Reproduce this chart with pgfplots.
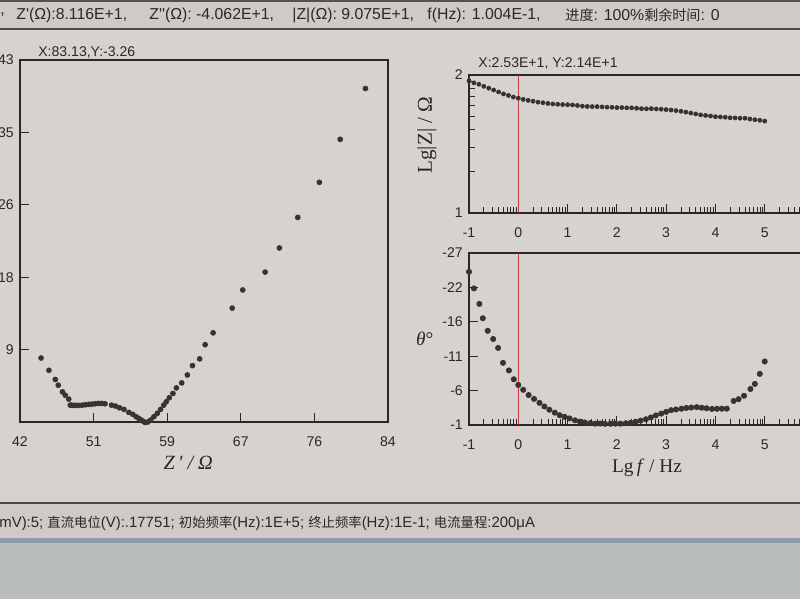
\documentclass[border=0pt]{standalone}
\usepackage{fontspec}
\setmainfont{Liberation Sans}
\newfontfamily\serif{Liberation Serif}
\newfontfamily\cjk{Noto Sans CJK SC}
\usepackage{pgfplots}
\pgfplotsset{compat=1.18}

\definecolor{bg}{HTML}{D6D2CF}
\definecolor{barbg}{HTML}{CFCAC7}
\definecolor{lowbg}{HTML}{B9BDBE}
\definecolor{edge}{HTML}{8E9CA8}
\definecolor{ink}{HTML}{2A2727}
\definecolor{dot}{HTML}{3A3232}
\definecolor{cursor}{HTML}{C8383C}

\newcommand\q{\textquotesingle}

\pgfplotsset{
  screen/.style={
    scale only axis, clip=false,
    axis line style={line width=0.6pt, ink},
    tick style={line width=0.5pt, ink},
    tick align=inside, xtick pos=left, ytick pos=left,
    major tick length=0.18cm, minor tick length=0.12cm,
    ticklabel style={font=\fontsize{8}{9.6}\selectfont, text=ink},
    xticklabel style={yshift=-0.17cm},
    label style={text=ink},
  },
  dots/.style={only marks, mark=*, mark size=#1,
    mark options={fill=dot, draw=dot}},
  bodex/.style={
    xmin=-1, xmax=6,
    xtick={-1,0,1,2,3,4,5,6}, xticklabels={-1,0,1,2,3,4,5,{}},
    minor xtick={-0.699,-0.523,-0.398,-0.301,-0.222,-0.155,-0.097,-0.046,
      0.301,0.477,0.602,0.699,0.778,0.845,0.903,0.954,
      1.301,1.477,1.602,1.699,1.778,1.845,1.903,1.954,
      2.301,2.477,2.602,2.699,2.778,2.845,2.903,2.954,
      3.301,3.477,3.602,3.699,3.778,3.845,3.903,3.954,
      4.301,4.477,4.602,4.699,4.778,4.845,4.903,4.954,
      5.301,5.477,5.602,5.699,5.778,5.845,5.903,5.954},
  },
}

% Nyquist: Z' and -Z'' (ohm)
\pgfplotstableread{
zre zim
44.78 8.41
45.67 6.97
46.39 5.89
46.72 5.22
47.20 4.44
47.51 4.05
47.91 3.59
48.08 2.88
48.19 2.88
48.38 2.85
48.56 2.85
48.75 2.85
49.05 2.85
49.42 2.88
49.78 2.92
50.16 2.97
50.53 3.00
50.90 3.04
51.27 3.08
51.64 3.08
52.01 3.04
52.75 2.88
53.19 2.77
53.64 2.57
54.15 2.38
54.70 2.03
55.15 1.80
55.53 1.52
55.82 1.33
56.12 1.13
56.38 0.94
56.56 0.85
56.86 0.90
57.17 1.13
57.54 1.52
57.92 1.92
58.29 2.38
58.65 2.88
58.93 3.27
59.27 3.74
59.69 4.25
60.08 4.90
60.68 5.49
61.32 6.42
61.90 7.52
62.71 8.31
63.33 9.98
64.23 11.37
66.39 14.27
67.58 16.40
70.11 18.50
71.72 21.33
73.80 24.92
76.24 29.04
78.60 34.09
81.45 40.05
}\nyq

% Bode modulus: lg f, lg|Z|
\pgfplotstableread{
lgf lgz
-1.0 1.957
-0.9 1.943
-0.8 1.933
-0.7 1.918
-0.6 1.905
-0.5 1.891
-0.4 1.877
-0.3 1.863
-0.2 1.852
-0.1 1.840
0.0 1.832
0.1 1.823
0.2 1.816
0.3 1.810
0.4 1.803
0.5 1.799
0.6 1.794
0.7 1.790
0.8 1.788
0.9 1.786
1.0 1.785
1.1 1.783
1.2 1.779
1.3 1.774
1.4 1.772
1.5 1.771
1.6 1.771
1.7 1.769
1.8 1.767
1.9 1.766
2.0 1.764
2.1 1.764
2.2 1.762
2.3 1.762
2.4 1.759
2.5 1.756
2.6 1.755
2.7 1.756
2.8 1.754
2.9 1.752
3.0 1.749
3.1 1.746
3.2 1.742
3.3 1.737
3.4 1.731
3.5 1.724
3.6 1.718
3.7 1.711
3.8 1.707
3.9 1.703
4.0 1.698
4.1 1.696
4.2 1.694
4.3 1.690
4.4 1.689
4.5 1.687
4.6 1.687
4.7 1.681
4.8 1.676
4.9 1.672
5.0 1.666
}\modz

% Bode phase: lg f, theta (deg)
\pgfplotstableread{
lgf th
-1.00 -24.15
-0.90 -21.65
-0.79 -19.30
-0.72 -17.14
-0.62 -15.24
-0.51 -14.00
-0.41 -12.65
-0.31 -10.40
-0.19 -9.25
-0.09 -7.91
0.00 -7.06
0.10 -6.32
0.21 -5.53
0.32 -4.94
0.43 -4.35
0.53 -3.80
0.63 -3.31
0.74 -2.87
0.84 -2.48
0.94 -2.24
1.04 -2.00
1.15 -1.71
1.25 -1.52
1.35 -1.38
1.46 -1.29
1.56 -1.20
1.66 -1.22
1.76 -1.18
1.87 -1.19
1.97 -1.20
2.07 -1.21
2.18 -1.27
2.28 -1.33
2.38 -1.50
2.48 -1.66
2.59 -1.87
2.69 -2.14
2.79 -2.45
2.90 -2.72
3.00 -2.98
3.10 -3.24
3.20 -3.35
3.31 -3.46
3.41 -3.58
3.51 -3.64
3.62 -3.70
3.72 -3.61
3.82 -3.53
3.93 -3.43
4.03 -3.45
4.13 -3.46
4.23 -3.47
4.37 -4.64
4.47 -4.90
4.58 -5.42
4.71 -6.44
4.80 -7.21
4.90 -8.73
5.00 -10.60
}\phase

\begin{document}
\begin{tikzpicture}
\useasboundingbox (0,0) rectangle (16,-11.98);
\clip (0,0) rectangle (16,-11.98);

% window background, status bars
\begin{scope}[x=0.02cm, y=-0.02cm]
  \fill[bg] (0,0) rectangle (800,599);
  \fill[barbg] (0,0) rectangle (800,29);
  \draw[ink!80, line width=1.2pt] (0,1) -- (800,1);
  \draw[ink!85, line width=1.2pt] (0,29) -- (800,29);
  \fill[barbg] (0,504) rectangle (800,538);
  \draw[ink!85, line width=1.2pt] (0,503) -- (800,503);
  \fill[edge] (0,538) rectangle (800,543);
  \fill[lowbg] (0,543) rectangle (800,599);

  \begin{scope}[every node/.style={anchor=west, inner sep=0pt, text=ink,
      font=\fontsize{9}{11}\selectfont}]
    \node at (0,15) {,};
    \node at (16,15) {Z\q(Ω):8.116E+1,};
    \node at (149,15) {Z\q\q(Ω): -4.062E+1,};
    \node at (292,15) {|Z|(Ω): 9.075E+1,};
    \node at (427,15) {f(Hz): 1.004E-1,};
    \node at (565,15) {{\cjk\fontsize{8}{10}\selectfont 进度}: 100\%{\cjk\fontsize{8}{10}\selectfont 剩余时间}: 0};
    \node[font=\fontsize{8.5}{10}\selectfont] at (-1,523)
      {mV):5; {\cjk\fontsize{7.6}{9}\selectfont 直流电位}(V):.17751; {\cjk\fontsize{7.6}{9}\selectfont 初始频率}(Hz):1E+5; {\cjk\fontsize{7.6}{9}\selectfont 终止频率}(Hz):1E-1; {\cjk\fontsize{7.6}{9}\selectfont 电流量程}:200μA};
    \node[font=\fontsize{8}{10}\selectfont] at (38,52) {X:83.13,Y:-3.26};
    \node[font=\fontsize{8}{10}\selectfont] at (478,63) {X:2.53E+1, Y:2.14E+1};
  \end{scope}
\end{scope}

% Nyquist plot
\begin{axis}[screen,
  at={(0.40cm,-1.20cm)}, anchor=north west,
  width=7.36cm, height=7.24cm,
  xmin=42.4, xmax=84, ymin=0.9, ymax=43.4,
  xtick={42.4,50.72,59.04,67.36,75.68,84}, xticklabels={42,51,59,67,76,84},
  ytick={0.9,9.4,17.9,26.4,34.9,43.4}, yticklabels={{},9,18,26,35,43},
  xlabel={{\serif\itshape\fontsize{11.5}{13}\selectfont Z\,\textquotesingle\ / Ω}},
  xlabel style={at={(axis description cs:0.457,-0.113)}, anchor=center},
]
\addplot[dots=1.4pt] table[x=zre, y=zim] {\nyq};
\end{axis}

% Bode: lg|Z|
\begin{axis}[screen, bodex,
  at={(9.38cm,-1.50cm)}, anchor=north west,
  width=6.9cm, height=2.76cm,
  ymin=1, ymax=2, ytick={1,2}, yticklabels={1,2},
  minor ytick={1.301,1.477,1.602,1.699,1.778,1.845,1.903,1.954},
  ylabel={{\serif\fontsize{12}{14}\selectfont Lg|Z| / Ω}},
  ylabel style={at={(axis description cs:-0.122,0.565)}, anchor=center},
]
\addplot[cursor, line width=0.6pt] coordinates {(0,1) (0,2)};
\addplot[dots=1.15pt] table[x=lgf, y=lgz] {\modz};
\end{axis}

% Bode: phase angle
\begin{axis}[screen, bodex,
  at={(9.38cm,-5.06cm)}, anchor=north west,
  width=6.9cm, height=3.44cm,
  y dir=reverse, ymin=-27, ymax=-1,
  ytick={-27,-21.8,-16.6,-11.4,-6.2,-1}, yticklabels={-27,-22,-16,-11,-6,-1},
  ylabel={{\serif\fontsize{11}{13}\selectfont\textit{θ}°}},
  ylabel style={at={(axis description cs:-0.128,0.5)}, anchor=center, rotate=-90},
  xlabel={{\serif\fontsize{11}{13}\selectfont Lg\,\textit{f} / Hz}},
  xlabel style={at={(axis description cs:0.516,-0.25)}, anchor=center},
]
\addplot[cursor, line width=0.6pt] coordinates {(0,-1) (0,-27)};
\addplot[dots=1.5pt] table[x=lgf, y=th] {\phase};
\end{axis}
\end{tikzpicture}
\end{document}
